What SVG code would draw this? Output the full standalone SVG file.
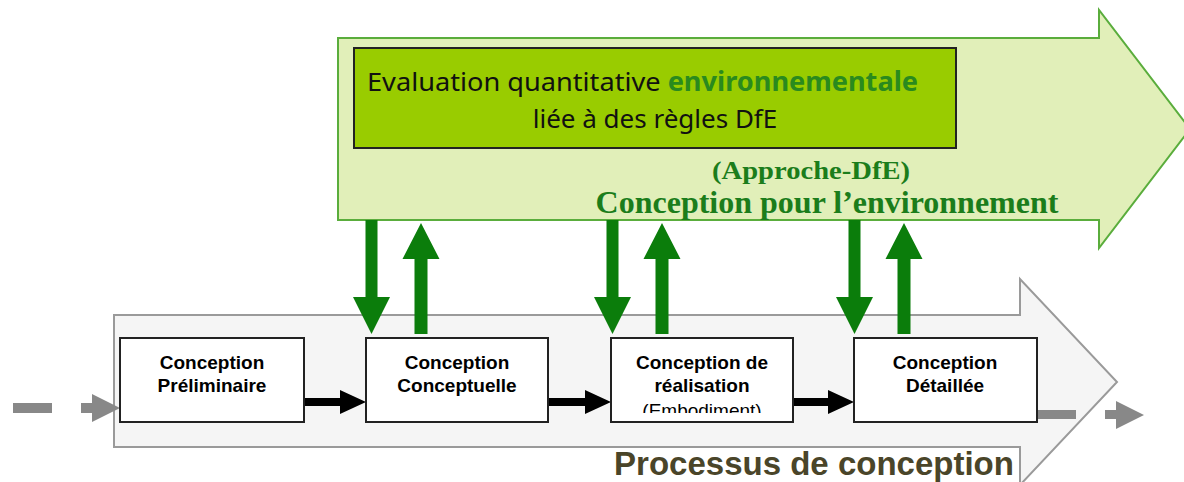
<svg xmlns="http://www.w3.org/2000/svg" width="1184" height="482" viewBox="0 0 1184 482">
<style>
.node rect{fill:#fff;stroke:#222;stroke-width:2}
.nt{font-family:"Liberation Sans",Arial,sans-serif;font-weight:bold;font-size:19px;fill:#000;text-anchor:middle}
.nr{font-family:"Liberation Sans",Arial,sans-serif;font-size:19px;fill:#000;text-anchor:middle}
.green{fill:#0b7d0b}
.black{fill:#000}
.grey{fill:#888}
.serif{font-family:"Liberation Serif","Times New Roman",serif;font-weight:bold;fill:#1b7d1b}
.cal{font-family:"Noto Sans",sans-serif;font-size:26px;fill:#111}
</style>
<defs>
<clipPath id="clip3"><rect x="611" y="338" width="182" height="75"/></clipPath>
</defs>
<g id="dfe-arrow">
<polygon points="338,38 1099,38 1099,10 1190,129 1099,248 1099,220 338,220" fill="#e1efb9" stroke="#5aad3c" stroke-width="2"/>
<rect x="354" y="48" width="602" height="100" fill="#99cc00" stroke="#222" stroke-width="2"/>
<text class="cal" x="367" y="91" textLength="551" lengthAdjust="spacingAndGlyphs">Evaluation quantitative <tspan font-weight="bold" fill="#2a8a1e">environnementale</tspan></text>
<text class="cal" x="655" y="128" text-anchor="middle">liée à des règles DfE</text>
<text class="serif" x="811" y="179" font-size="26" text-anchor="middle" textLength="198" lengthAdjust="spacingAndGlyphs">(Approche-DfE)</text>
<text class="serif" x="827" y="213" font-size="32" text-anchor="middle">Conception pour l’environnement</text>
</g>
<g id="process-arrow">
<polygon points="114,315 1020,315 1020,279 1117,382 1020,485 1020,447 114,447" fill="#f5f5f5" stroke="#9a9a9a" stroke-width="2"/>
<text x="814" y="475" font-family="'Liberation Sans',Arial,sans-serif" font-weight="bold" font-size="33" fill="#4a4529" text-anchor="middle">Processus de conception</text>
</g>
<g id="connectors">
<rect class="grey" x="13" y="403" width="39" height="10"/>
<polygon class="grey" points="81,403 92,403 92,394 120,408 92,422 92,413 81,413"/>
<rect class="grey" x="1037" y="410" width="39" height="9"/>
<polygon class="grey" points="1105,410 1116,410 1116,401 1144,415 1116,429 1116,419 1105,419"/>
<polygon class="black" points="304,398 340,398 340,390 366,402 340,414 340,406 304,406"/>
<polygon class="black" points="548,398 585,398 585,390 611,402 585,414 585,406 548,406"/>
<polygon class="black" points="793,398 828,398 828,390 854,402 828,414 828,406 793,406"/>
<polygon class="green" points="365.5,220 377.5,220 377.5,297 390,297 371.5,334 353,297 365.5,297"/>
<polygon class="green" points="606.5,220 618.5,220 618.5,297 631,297 612.5,334 594,297 606.5,297"/>
<polygon class="green" points="848.5,220 860.5,220 860.5,297 873,297 854.5,334 836,297 848.5,297"/>
<polygon class="green" points="414.5,334 427.5,334 427.5,259 439.5,259 421,223 402.5,259 414.5,259"/>
<polygon class="green" points="655.5,334 668.5,334 668.5,259 680.5,259 662,223 643.5,259 655.5,259"/>
<polygon class="green" points="897.5,334 910.5,334 910.5,259 922.5,259 904,223 885.5,259 897.5,259"/>
</g>
<g id="node-preliminaire" class="node">
<rect x="120" y="338" width="184" height="84"/>
<text class="nt" x="212" y="369">Conception</text>
<text class="nt" x="212" y="392">Préliminaire</text>
</g>
<g id="node-conceptuelle" class="node">
<rect x="366" y="338" width="182" height="84"/>
<text class="nt" x="457" y="369">Conception</text>
<text class="nt" x="457" y="392">Conceptuelle</text>
</g>
<g id="node-realisation" class="node">
<rect x="611" y="338" width="182" height="84"/>
<text class="nt" x="702" y="369">Conception de</text>
<text class="nt" x="702" y="392">réalisation</text>
<text class="nr" x="702" y="417" clip-path="url(#clip3)">(Embodiment)</text>
</g>
<g id="node-detaillee" class="node">
<rect x="854" y="338" width="183" height="84"/>
<text class="nt" x="945" y="369">Conception</text>
<text class="nt" x="945" y="392">Détaillée</text>
</g>
</svg>
